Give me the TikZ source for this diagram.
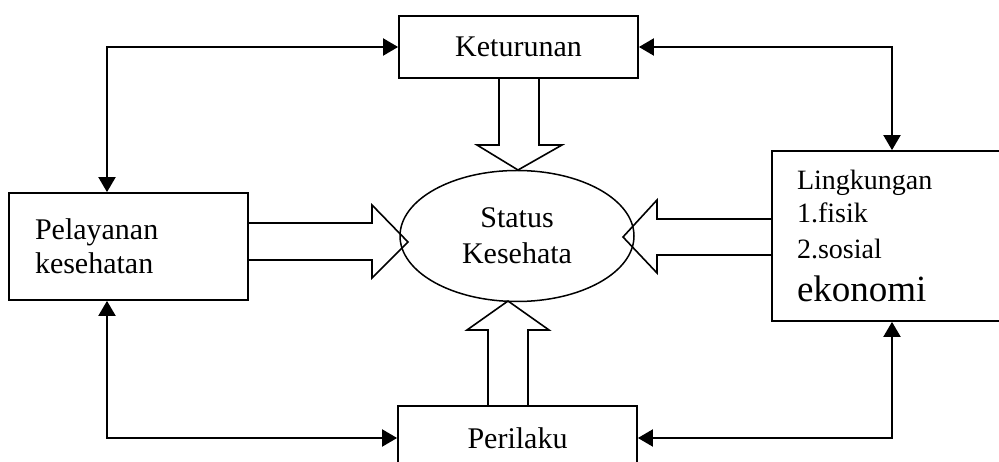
\documentclass[tikz,border=0pt]{standalone}
\usepackage{fontspec}
\setmainfont{Liberation Serif}
\usetikzlibrary{arrows.meta,shapes.geometric}
\begin{document}
\begin{tikzpicture}[x=1pt,y=-1pt,
  txt/.style={font=\fontsize{30}{36}\selectfont},
  box/.style={draw,line width=1.8pt,rectangle,inner sep=0pt,txt},
  hollow/.style={draw,line width=1.6pt,line join=miter},
  link/.style={draw,line width=2pt,{Triangle[width=17pt,length=15pt]}-{Triangle[width=17pt,length=15pt]}}]
\useasboundingbox (0,0) rectangle (999,462);
\clip (0,0) rectangle (999,462);

% factor boxes
\node[box,minimum width=239pt,minimum height=62pt] (ket) at (518.5,47) {Keturunan};
\node[box,minimum width=239pt,minimum height=64pt] (per) at (517.5,438) {\raisebox{-9pt}{Perilaku}};
\node[box,minimum width=239pt,minimum height=107pt,align=left,text width=187pt] (pel) at (128.5,246.5)
  {\raisebox{-2pt}{Pelayanan}\\kesehatan};
\node[box,minimum width=238pt,minimum height=170pt,align=left,text width=188pt,
  font=\fontsize{28}{35.5}\selectfont] (lin) at (891,236)
  {\raisebox{-2pt}{Lingkungan}\\1.fisik\\2.sosial\\[8pt]{\fontsize{37}{35.5}\selectfont ekonomi}};

% central outcome
\node[draw,ellipse,line width=1.5pt,inner sep=0pt,minimum width=234pt,minimum height=131pt,
  align=center,txt] (st) at (517,236) {Status\\Kesehata};

% hollow influence arrows
\draw[hollow] ([xshift=-19.5pt]ket.south) -- (499,145) -- (477,145) -- (518,170)
  -- (562,145) -- (539,145) -- ([xshift=20.5pt]ket.south);
\draw[hollow] ([xshift=-29.5pt]per.north) -- (488,330) -- (467,330) -- (508,301)
  -- (549,330) -- (528,330) -- ([xshift=10.5pt]per.north);
\draw[hollow] ([yshift=17pt]lin.west) -- (657,219) -- (657,200) -- (623,237)
  -- (657,273) -- (657,255) -- ([yshift=-19pt]lin.west);
\draw[hollow] ([yshift=23.5pt]pel.east) -- (372,223) -- (372,205) -- (408,242)
  -- (372,278) -- (372,260) -- ([yshift=-13.5pt]pel.east);

% two-way links around the outside
\coordinate (xl) at (107,0);
\coordinate (xr) at (892,0);
\draw[link] (xl |- pel.north) |- (ket.west);
\draw[link] (xr |- lin.north) |- (ket.east);
\draw[link] (xl |- pel.south) |- (per.west);
\draw[link] (xr |- lin.south) |- (per.east);
\end{tikzpicture}
\end{document}
